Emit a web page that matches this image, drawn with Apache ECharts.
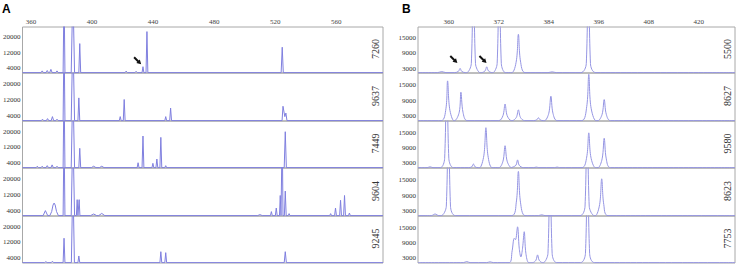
<!DOCTYPE html>
<html>
<head>
<meta charset="utf-8">
<script src="https://cdn.jsdelivr.net/npm/echarts@6/dist/echarts.min.js"></script>
<style>
html,body{margin:0;padding:0;background:#fff;}
#chart{width:738px;height:265px;}
</style>
</head>
<body>
<div id="chart"></div>
<script>
// tick labels
const ticksA = [360, 400, 440, 480, 520, 560];
const ticksB = [360, 372, 384, 396, 408, 420];
const yTicksA = [4000, 12000, 20000];
const yTicksB = [3000, 9000, 15000];
const samplesA = ['7260', '9637', '7449', '9604', '9245'];
const samplesB = ['5500', '8627', '9580', '8623', '7753'];

// panel A traces [size, intensity]
const traceA7260 = [[354.5,1500],
  [366.6,1500],[367.4,2400],[368.2,1500],[369.9,1500],[370.7,2600],[371.5,1500],
  [372.3,1500],[373.1,3200],[373.9,1500],[376.3,1500],[377.1,2400],[377.9,1500],
  [381.1,1500],[381.7,45000],[382.3,1500],[386.4,1500],[387.5,45000],[388.6,1500],
  [391.4,1500],[392.0,16700],[392.6,1500],[421.6,1500],[422.4,2300],[423.2,1500],
  [428.1,1500],[428.9,2200],[429.7,1500],[432.8,1500],[433.4,4600],[434.0,1500],
  [435.4,1500],[436.0,23000],[436.6,1500],[523.9,1500],[524.6,14800],[525.3,1500],
  [590.6,1500]];
const traceA9637 = [[354.5,1500],
  [366.8,1500],[367.6,2200],[368.4,1500],[370.1,1500],[370.9,2500],[371.7,1500],
  [373.3,1500],[374.1,3500],[374.9,1500],[376.3,1500],[377.1,2200],[377.9,1500],
  [381.1,1500],[381.7,45000],[382.3,1500],[386.4,1500],[387.5,45000],[388.6,1500],
  [390.8,1500],[391.4,12900],[392.0,1500],[417.9,1500],[418.5,3500],[419.1,1500],
  [420.5,1500],[421.1,12100],[421.7,1500],[447.7,1500],[448.3,3500],[448.9,1500],
  [450.9,1500],[451.5,7800],[452.1,1500],
  [524.5,1500],[525.1,8700],[526.3,3500],[527.0,5300],[527.7,1500],
  [590.6,1500]];
const traceA7449 = [[354.5,1500],
  [363.4,1500],[364.2,2200],[365.0,1500],[366.6,1500],[367.4,2200],[368.2,1500],
  [369.9,1500],[370.7,2500],[371.5,1500],[373.1,1500],[373.9,2900],[374.7,1500],
  [376.3,1500],[377.1,2200],[377.9,1500],
  [381.1,1500],[381.7,45000],[382.3,1500],[386.4,1500],[387.5,45000],[388.6,1500],
  [391.4,1500],[392.0,11400],[392.6,1500],[399.6,1500],[401.1,2200],[402.6,1500],
  [404.9,1500],[406.4,2200],[407.9,1500],[429.6,1500],[430.2,4000],[430.8,1500],
  [432.8,1500],[433.4,17700],[434.0,1500],[439.3,1500],[439.9,3700],[440.5,1500],
  [441.9,1500],[442.5,5900],[443.1,1500],[444.5,1500],[445.1,17000],[445.7,1500],
  [447.7,1500],[448.3,2500],[448.9,1500],[525.9,1500],[526.6,19900],[527.3,1500],
  [590.6,1500]];
const traceA9604 = [[354.5,1500],
  [368.0,1500],[369.5,4000],[371.0,1500],
  [372.4,1500],[373.6,3500],[374.5,6800],[375.2,7800],[375.9,6800],[376.8,3500],[378.0,1500],
  [381.1,1500],[381.7,45000],[382.3,1500],[386.4,1500],[387.5,45000],[388.6,1500],
  [389.8,1500],[390.3,9500],[390.8,1500],[391.1,1500],[391.6,9500],[392.1,1500],
  [399.1,1500],[401.1,2300],[403.1,1500],[404.4,1500],[406.4,2600],[408.4,1500],
  [508.5,1500],[510.0,2000],[511.5,1500],[516.9,1500],[517.5,3500],[518.1,1500],
  [520.1,1500],[520.7,5300],[521.3,1500],[522.8,1500],[523.3,11600],[523.8,1500],
  [524.1,1500],[524.6,45000],[525.1,1500],[526.0,1500],[526.6,13800],[527.2,1500],
  [528.5,1500],[529.1,2500],[529.7,1500],[555.7,1500],[556.3,2500],[556.9,1500],
  [558.9,1500],[559.5,5300],[560.1,1500],[562.2,1500],[562.8,9200],[563.4,1500],
  [564.8,1500],[565.4,11600],[566.0,1500],[568.0,1500],[568.6,2800],[569.2,1500],
  [590.6,1500]];
const traceA9245 = [[354.5,1500],
  [369.0,1500],[369.8,2000],[370.6,1500],[373.3,1500],[374.1,2200],[374.9,1500],
  [381.1,1500],[381.7,14000],[382.3,1500],[386.5,1500],[387.5,45000],[388.5,1500],
  [390.8,1500],[391.4,4900],[392.0,1500],[444.5,1500],[445.1,7100],[445.7,1500],
  [447.7,1500],[448.3,6600],[448.9,1500],[525.9,1500],[526.6,7100],[527.3,1500],
  [590.6,1500]];

// panel B traces
const traceB5500 = [[352.6,1400],
  [357.3,1400],[358.3,1800],[359.3,1400],
  [361.4,1400],[362.3,1900],[362.7,3100],[363.1,1900],[364.0,1400],
  [364.3,1400],[365.4,5000],[365.9,60000],[366.4,5000],[367.5,1400],
  [367.8,1400],[368.7,2100],[369.1,3700],[369.5,2100],[370.4,1400],
  [370.6,1400],[371.6,5000],[372.1,60000],[372.6,5000],[373.6,1400],
  [375.1,1400],[376.2,6000],[376.7,16600],[377.2,6000],[378.3,1400],
  [383.8,1400],[384.8,1700],[385.8,1400],
  [391.7,1400],[393.0,5000],[393.5,60000],[394.0,5000],[395.3,1400],
  [428.7,1400]];
const traceB8627 = [[352.6,1400],
  [358.2,1400],[359.3,5900],[359.7,16500],[360.2,5900],[361.2,1400],
  [361.4,1400],[362.5,4600],[362.9,12200],[363.4,4600],[364.4,1400],
  [372.0,1400],[373.0,3300],[373.5,7700],[374.0,3300],[375.0,1400],
  [375.2,1400],[376.2,2600],[376.7,5500],[377.2,2600],[378.2,1400],
  [380.3,1400],[381.1,1700],[381.5,2500],[381.9,1700],[382.7,1400],
  [383.0,1400],[384.0,4200],[384.5,10700],[385.0,4200],[386.0,1400],
  [391.9,1400],[393.1,6700],[393.6,19000],[394.1,6700],[395.3,1400],
  [395.8,1400],[396.8,3800],[397.3,9400],[397.8,3800],[398.8,1400],
  [428.7,1400]];
const traceB9580 = [[352.6,1400],
  [354.8,1400],[355.5,1700],[356.2,1400],
  [358.0,1400],[359.0,5000],[359.5,60000],[360.0,5000],[361.1,1400],
  [364.7,1400],[365.5,1700],[365.9,2800],[366.3,1700],[367.1,1400],
  [367.4,1400],[368.4,6000],[368.9,16900],[369.4,6000],[370.4,1400],
  [372.0,1400],[373.0,3900],[373.5,9900],[374.0,3900],[375.0,1400],
  [375.1,1400],[376.1,2300],[376.5,4400],[376.9,2300],[377.9,1400],
  [380.4,1400],[381.0,1600],[381.6,1400],[385.4,1400],[386.0,1600],[386.6,1400],
  [392.0,1400],[393.1,5500],[393.6,14900],[394.1,5500],[395.2,1400],
  [395.8,1400],[396.8,4800],[397.3,12800],[397.8,4800],[398.8,1400],
  [428.7,1400]];
const traceB8623 = [[352.6,1400],
  [355.8,1400],[356.7,2000],[357.6,1400],
  [358.2,1400],[359.4,5000],[359.9,60000],[360.4,5000],[361.6,1400],
  [375.1,1400],[376.2,6500],[376.7,18200],[377.2,6500],[378.3,1400],
  [381.5,1400],[382.3,1700],[383.1,1400],
  [391.5,1400],[392.7,5000],[393.2,60000],[393.7,5000],[394.9,1400],
  [395.2,1400],[396.2,5600],[396.7,15400],[397.2,5600],[398.2,1400],
  [428.7,1400]];
const traceB7753 = [[352.6,1400],
  [363.5,1400],[364.3,1800],[365.1,1400],[369.1,1400],[369.9,1700],[370.7,1400],
  [374.5,1400],[375.2,6000],[375.7,10800],[376.0,10300],[376.5,15300],[376.9,7000],
  [377.3,3600],[377.7,7000],[378.1,13400],[378.5,5000],[379.2,1400],
  [380.1,1400],[380.9,2300],[381.3,4400],[381.7,2300],[382.5,1400],
  [382.7,1400],[383.8,5000],[384.3,60000],[384.8,5000],[385.9,1400],
  [391.6,1400],[392.8,5000],[393.3,60000],[393.8,5000],[395.0,1400],
  [428.7,1400]];

// arrows pointing at the minor peaks
const arrowsA = [[429.9, 7700]];
const arrowsB = [[361.2, 6600], [368.2, 6600]];

const tracesA = [traceA7260, traceA9637, traceA7449, traceA9604, traceA9245];
const tracesB = [traceB5500, traceB8627, traceB9580, traceB8623, traceB7753];

const rowTops = [27, 73, 121, 168, 216];
const rowHeights = [46, 48, 47, 48, 47];
const arrowPath = 'path://M5,0L10,7L7,7L7,16L3,16L3,7L0,7Z';
const serif = '"Liberation Serif", "Times New Roman", serif';

const panels = [
    {left: 18, width: 365, min: 354.5, max: 590.6, ymin: 1300, ymax: 25400,
     ticks: ticksA, yTicks: yTicksA, traces: tracesA, names: samplesA, arrows: arrowsA,
     color: '#7f7fdf', smooth: false, labelX: 375, letter: 'A', letterX: 2},
    {left: 418, width: 317, min: 352.6, max: 428.7, ymin: 1250, ymax: 19500,
     ticks: ticksB, yTicks: yTicksB, traces: tracesB, names: samplesB, arrows: arrowsB,
     color: '#9595e3', smooth: 0.35, labelX: 727, letter: 'B', letterX: 402}
];

let grid = [], xAxis = [], yAxis = [], series = [], graphic = [];
let idx = 0;
panels.forEach(p => {
    graphic.push({
        type: 'text', x: p.letterX, y: 3,
        style: {text: p.letter, font: 'bold 12px "Liberation Sans"', fill: '#000'}
    });
    p.traces.forEach((tr, i) => {
        grid.push({
            left: p.left, top: rowTops[i], width: p.width, height: rowHeights[i],
            show: true, borderColor: '#a8a8a8', borderWidth: 1
        });
        xAxis.push({
            gridIndex: idx, type: 'value', min: p.min, max: p.max, position: 'top',
            axisLine: {show: false},
            axisTick: {show: false},
            splitLine: {show: false},
            axisLabel: i === 0 ? {
                show: true, customValues: p.ticks, margin: 2,
                formatter: v => String(v),
                fontSize: 7, fontFamily: serif, color: '#444'
            } : {show: false}
        });
        yAxis.push({
            gridIndex: idx, type: 'value', min: p.ymin, max: p.ymax,
            axisLine: {show: false},
            axisTick: {show: false},
            splitLine: {show: false},
            axisLabel: {
                customValues: p.yTicks, margin: 2,
                formatter: v => String(v),
                fontSize: 7, fontFamily: serif, color: '#333'
            }
        });
        let s = {
            type: 'line', xAxisIndex: idx, yAxisIndex: idx,
            data: tr, symbol: 'none', silent: true, smooth: p.smooth,
            lineStyle: {color: p.color, width: 1},
            clip: true
        };
        if (i === 0) {
            s.markPoint = {
                symbol: arrowPath, symbolSize: [5, 10], symbolRotate: -135,
                itemStyle: {color: '#111'},
                label: {show: false},
                data: p.arrows.map(c => ({coord: c}))
            };
        }
        series.push(s);
        graphic.push({
            type: 'text', x: p.labelX, y: rowTops[i] + rowHeights[i] / 2 - 1,
            rotation: Math.PI / 2,
            style: {
                text: p.names[i], font: '10px "Liberation Serif"', fill: '#333',
                textAlign: 'center', textVerticalAlign: 'middle'
            }
        });
        idx++;
    });
});

const chart = echarts.init(document.getElementById('chart'), null, {renderer: 'svg'});
chart.setOption({
    animation: false,
    backgroundColor: '#fff',
    grid: grid,
    xAxis: xAxis,
    yAxis: yAxis,
    series: series,
    graphic: graphic
});
</script>
</body>
</html>
